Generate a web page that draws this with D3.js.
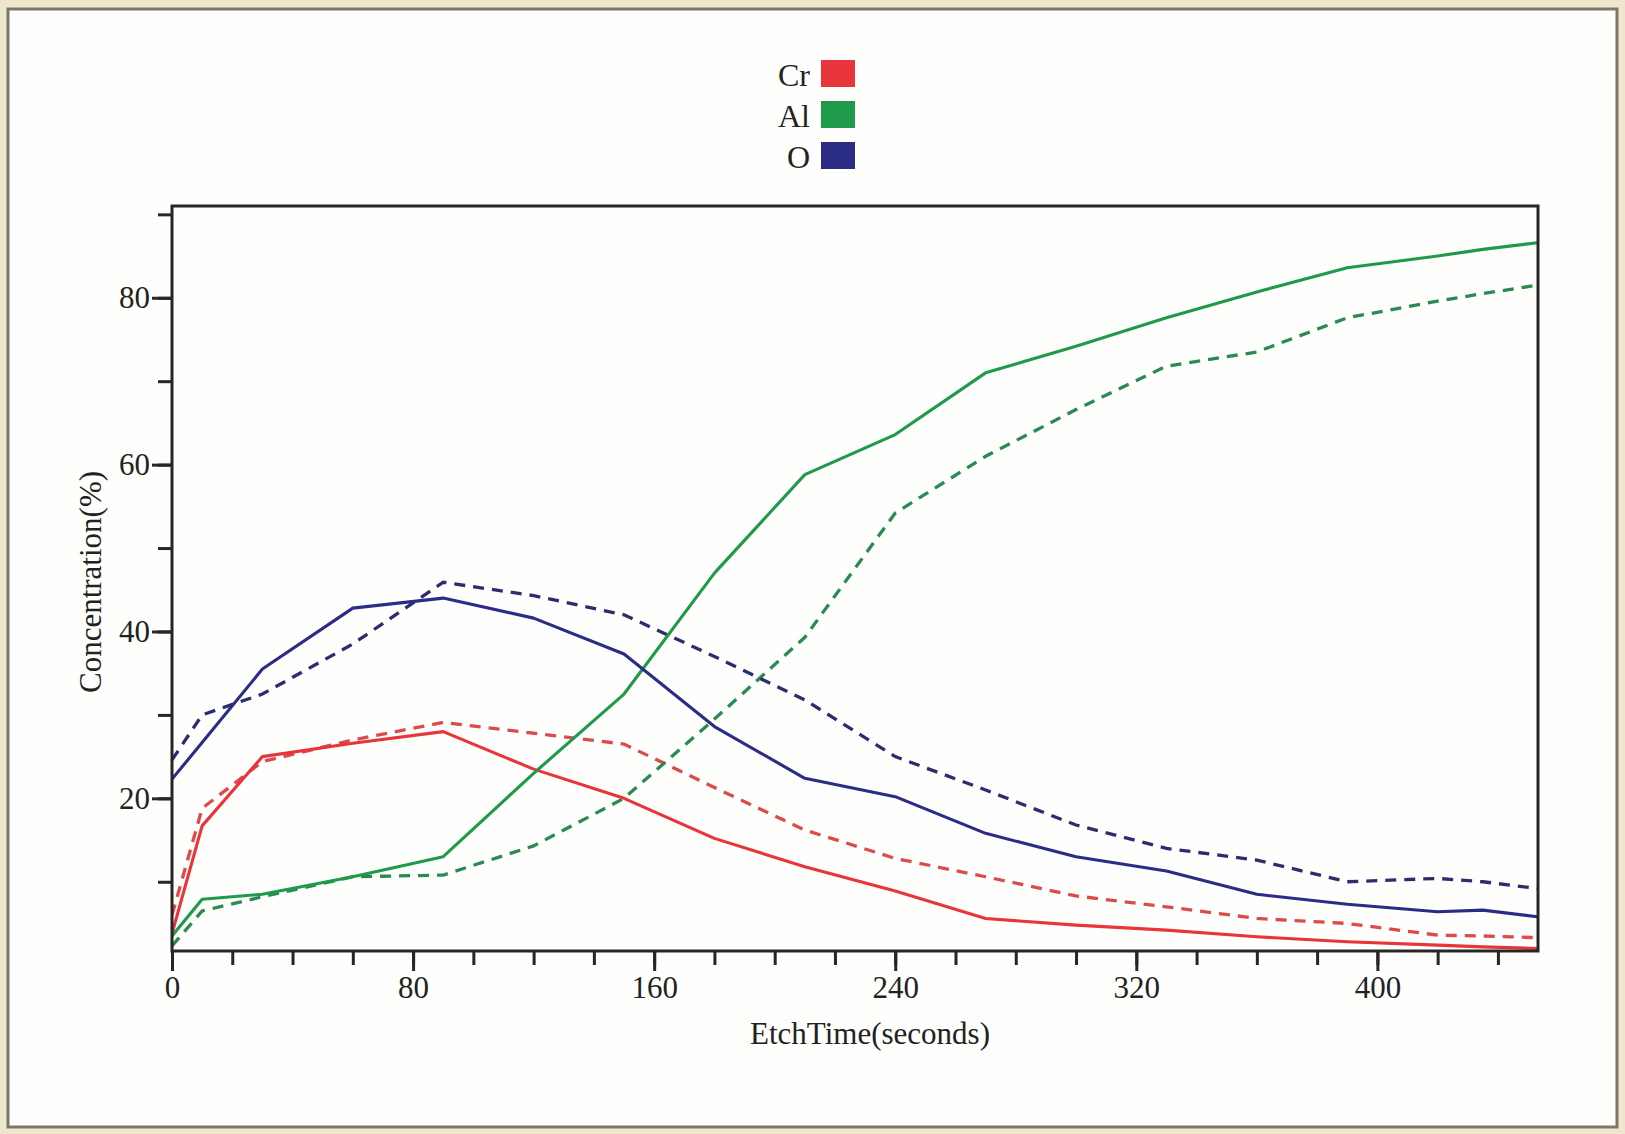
<!DOCTYPE html>
<html>
<head>
<meta charset="utf-8">
<script src="https://cdn.jsdelivr.net/npm/d3@7"></script>
<style>
  html, body { margin: 0; padding: 0; background: #efe7cb; }
  svg { display: block; }
  text { font-family: "Liberation Serif", "DejaVu Serif", serif; fill: #222; }
</style>
</head>
<body>
<div id="chart"></div>
<script>
// etch times (seconds) where the profiles have their vertices
var etchTime = [0, 10, 30, 60, 90, 120, 150, 180, 210, 240, 270, 300, 330, 360, 390, 420, 435, 453];

// solid lines
var crSolid = [3.8, 16.7, 25.0, 26.6, 28.0, 23.5, 20.0, 15.2, 11.8, 8.9, 5.6, 4.8, 4.2, 3.4, 2.8, 2.4, 2.2, 2.0];
var alSolid = [3.5, 7.9, 8.5, 10.6, 13.0, 23.0, 32.5, 47.0, 58.8, 63.6, 71.0, 74.2, 77.6, 80.7, 83.6, 85.0, 85.8, 86.6];
var oSolid  = [22.3, 26.7, 35.5, 42.8, 44.0, 41.6, 37.3, 28.6, 22.4, 20.2, 15.8, 13.0, 11.3, 8.5, 7.3, 6.4, 6.6, 5.8];

// dashed lines
var crDashed = [6.0, 18.8, 24.4, 27.0, 29.1, 27.8, 26.5, 21.3, 16.2, 12.8, 10.6, 8.3, 7.0, 5.6, 5.0, 3.6, 3.5, 3.3];
var alDashed = [2.3, 6.5, 8.2, 10.6, 10.8, 14.3, 20.0, 29.5, 39.3, 54.2, 61.0, 66.6, 71.8, 73.5, 77.6, 79.6, 80.5, 81.5];
var oDashed  = [24.6, 30.0, 32.5, 38.5, 45.9, 44.3, 42.0, 37.0, 31.8, 25.0, 21.0, 16.8, 14.0, 12.6, 10.0, 10.4, 10.0, 9.2];

var elements = ["Cr", "Al", "O"];
var colors = ["#e8343b", "#1f9a4b", "#2b2c86"];
var dashColors = ["#dc4a4c", "#2b8a50", "#2c2d6e"];

var xTicks = [0, 80, 160, 240, 320, 400];
var yTicks = [20, 40, 60, 80];

var W = 1625, H = 1134;
// plot box edges (window.top is reserved, so use other names)
var pLeft = 172, pRight = 1538, pTop = 206, pBottom = 951;

var svg = d3.select("#chart").append("svg")
	.attr("width", W)
	.attr("height", H);

// scanned page frame
svg.append("rect")
	.attr("x", 8).attr("y", 9)
	.attr("width", 1609).attr("height", 1118)
	.attr("fill", "#fefefc")
	.attr("stroke", "#7a766c")
	.attr("stroke-width", 3);

var x = d3.scaleLinear().domain([0, 453.3]).range([pLeft, pRight]);
var y = d3.scaleLinear().domain([1.7, 91]).range([pBottom, pTop]);

// minor ticks first, then major with labels
var xMinor = d3.axisBottom(x).tickValues(d3.range(0, 453, 20)).tickSize(14).tickFormat("");
var xMajor = d3.axisBottom(x).tickValues(xTicks).tickSize(20).tickPadding(5).tickFormat(d3.format("d"));
var yMinor = d3.axisLeft(y).tickValues(d3.range(10, 91, 10)).tickSize(14).tickFormat("");
var yMajor = d3.axisLeft(y).tickValues(yTicks).tickSize(20).tickPadding(2).tickFormat(d3.format("d"));

function styleAxis(g) {
	g.select(".domain").remove();
	g.selectAll("line").attr("stroke", "#262626").attr("stroke-width", 3);
	g.selectAll("text").style("font-size", "31px").attr("fill", "#2a2a2a");
}

svg.append("g").attr("transform", "translate(0," + pBottom + ")").call(xMinor).call(styleAxis);
svg.append("g").attr("transform", "translate(0," + pBottom + ")").call(xMajor).call(styleAxis);
svg.append("g").attr("transform", "translate(" + pLeft + ",0)").call(yMinor).call(styleAxis);
svg.append("g").attr("transform", "translate(" + pLeft + ",0)").call(yMajor).call(styleAxis);

// clip lines to plot box
svg.append("clipPath").attr("id", "clip")
	.append("rect")
	.attr("x", pLeft).attr("y", pTop)
	.attr("width", pRight - pLeft).attr("height", pBottom - pTop);

var line = d3.line()
	.x(function(d) { return x(d.t); })
	.y(function(d) { return y(d.v); });

function pts(vals) {
	return etchTime.map(function(t, i) { return {t: t, v: vals[i]}; });
}

var dashedSets = [crDashed, alDashed, oDashed];
var solidSets = [crSolid, alSolid, oSolid];

var plot = svg.append("g").attr("clip-path", "url(#clip)");

dashedSets.forEach(function(s, i) {
	plot.append("path")
		.datum(pts(s))
		.attr("d", line)
		.attr("fill", "none")
		.attr("stroke", dashColors[i])
		.attr("stroke-width", 3.3)
		.attr("stroke-dasharray", "11,8");
});

solidSets.forEach(function(s, i) {
	plot.append("path")
		.datum(pts(s))
		.attr("d", line)
		.attr("fill", "none")
		.attr("stroke", colors[i])
		.attr("stroke-width", 3.1)
		.attr("stroke-linejoin", "round");
});

// plot box
svg.append("rect")
	.attr("x", pLeft).attr("y", pTop)
	.attr("width", pRight - pLeft).attr("height", pBottom - pTop)
	.attr("fill", "none")
	.attr("stroke", "#262626")
	.attr("stroke-width", 3);

// axis titles
svg.append("text")
	.attr("x", 870).attr("y", 1044)
	.attr("text-anchor", "middle")
	.style("font-size", "31px")
	.text("EtchTime(seconds)");

svg.append("text")
	.attr("transform", "translate(101,582) rotate(-90)")
	.attr("text-anchor", "middle")
	.style("font-size", "31px")
	.text("Concentration(%)");

// legend
var legend = svg.append("g").attr("transform", "translate(821,60)");
var row = legend.selectAll(".row")
	.data(elements)
	.enter().append("g")
	.attr("class", "row")
	.attr("transform", function(d, i) { return "translate(0," + (i * 41) + ")"; });

row.append("rect")
	.attr("width", 34).attr("height", 27)
	.attr("fill", function(d, i) { return colors[i]; });

row.append("text")
	.attr("x", -11).attr("y", 26)
	.attr("text-anchor", "end")
	.style("font-size", "32px")
	.text(function(d) { return d; });
</script>
</body>
</html>
